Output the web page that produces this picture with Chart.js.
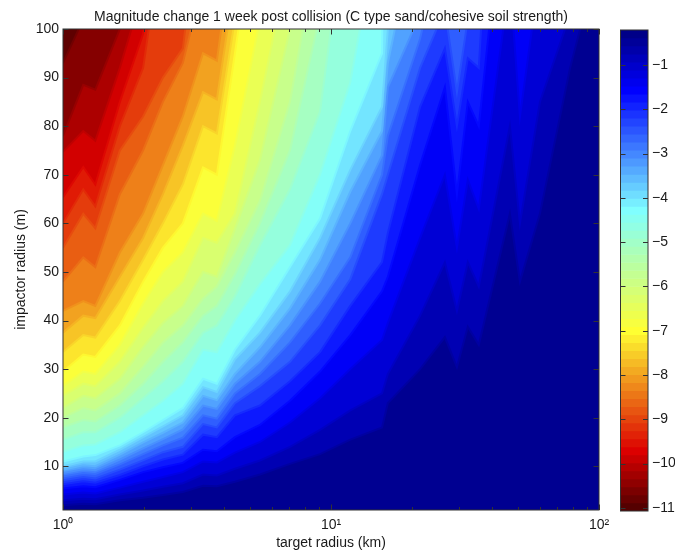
<!DOCTYPE html>
<html>
<head>
<meta charset="utf-8">
<script src="https://cdn.jsdelivr.net/npm/chart.js@4"></script>
<style>
  html, body { margin: 0; background: #fff; }
  canvas { position: absolute; top: 0; }
</style>
</head>
<body>
<canvas id="plot" width="675" height="552" style="left:0"></canvas>
<canvas id="bar" width="65" height="552" style="left:610px"></canvas>
<script>
// target radius grid (km)
const targetRadius = [1, 1.19, 1.32, 1.63, 1.99, 2.36, 2.8, 3.33, 3.75, 4.38, 5.43, 7.03, 9.1, 11.8, 15.5, 16.3, 21.5, 26.6, 29.5, 32.4, 35.6, 46.5, 50.7, 60.2, 78, 100];

// contour levels, top of colorbar to bottom
const levels = [-0.21, -0.57, -0.93, -1.30, -1.66, -2.02, -2.38, -2.74, -3.11, -3.47, -3.83, -4.19, -4.55, -4.92, -5.28, -5.64, -6.00, -6.36, -6.73, -7.09, -7.45, -7.81, -8.17, -8.54, -8.90, -9.26, -9.62, -9.98, -10.35, -10.71, -11.07];

// impactor radius where each level crosses the target radius grid.
// lines stop once they have left the top of the plot
const line01 = [2, 2.3, 2.2, 3, 3.5, 4.1, 4.7, 6, 5.9, 6.8, 8.3, 10.5, 12.5, 15.5, 18, 23, 30, 36.6, 30.4, 38.7, 35, 62, 48, 62, 92, 115];
const line02 = [3, 3.3, 3.2, 4.2, 5, 5.8, 6.5, 8.3, 8.1, 9.5, 11.2, 14, 17.5, 21.5, 25, 29, 41, 52, 42, 52, 47, 80, 60, 85, 103, 130];
const line03 = [4.2, 4.6, 4.4, 5.6, 6.8, 7.8, 8.8, 11, 10.8, 12.8, 15, 19, 24, 30, 36, 39.5, 57, 70, 55, 69, 63, 110, 82, 112, 150];
const line04 = [5.4, 5.9, 5.7, 7.2, 8.8, 9.8, 10.7, 13.4, 13.1, 16, 18.5, 23.5, 29.5, 37, 46, 49, 72, 88, 66, 85, 80, 140, 103, 150];
const line05 = [6.3, 6.9, 6.6, 8.2, 10, 11.4, 12.4, 16.5, 16, 20.5, 22.5, 27.5, 33.5, 43, 52, 58, 84, 96, 80, 94, 92, 200];
const line06 = [7.1, 7.8, 7.5, 9.3, 11.2, 12.9, 14, 18.7, 18, 23, 26.5, 31.5, 39, 48.5, 66, 70, 92, 104, 87, 102, 125];
const line07 = [7.9, 8.6, 8.4, 10.4, 12.5, 14.3, 15.9, 20.5, 19.8, 25, 29, 35.5, 43.5, 53, 70, 78, 98, 120, 115, 125];
const line08 = [8.6, 9.4, 9.2, 11.4, 13.7, 15.6, 17.6, 22.5, 21.8, 27, 31.5, 39, 48, 60, 74, 88, 103, 130];
const line09 = [9.3, 10.2, 10, 12.4, 14.9, 16.9, 19, 24.5, 23.6, 29, 34.5, 42.5, 52.5, 66.5, 79, 93, 125];
const line10 = [10, 11, 11, 13.4, 16, 18.2, 20.5, 26.3, 25.3, 32, 37.5, 46, 57, 71, 84, 100, 160];
const line11 = [11, 12, 12.3, 14.3, 17, 19.5, 22, 28, 27, 34, 41, 51, 61, 79, 95, 200];
const line12 = [13, 14.3, 14.5, 17, 20.5, 23.5, 27, 34, 33.5, 40, 47.5, 55.5, 70, 89, 125];
const line13 = [15.5, 17, 17, 20, 24, 27.5, 31.5, 37.5, 39, 45, 55.5, 67, 83, 130];
const line14 = [18, 19.5, 19.2, 22.5, 27, 31.5, 35.5, 41, 43, 49.5, 60, 75, 103];
const line15 = [20, 22, 21.5, 25, 30.5, 35.5, 39, 44.5, 47, 54, 64.6, 85, 120];
const line16 = [22, 24.5, 24, 28, 34.5, 39.5, 43, 50, 49, 58.8, 73, 100, 130];
const line17 = [24.5, 27, 26.5, 31.5, 38.5, 44, 48, 57, 56, 62, 85, 115];
const line18 = [26.5, 29.5, 29, 35, 43.5, 50, 54, 62, 60.5, 76, 102, 130];
const line19 = [29.5, 33, 32.5, 39, 48, 55, 60, 71.5, 70, 95, 130];
const line20 = [33.5, 37, 36.5, 44, 52.5, 60, 68, 80, 78.5, 102, 130];
const line21 = [37.5, 41, 40.5, 49, 57, 66, 76, 87, 85.5, 110];
const line22 = [42, 44, 43, 54, 62, 72, 82, 95, 93.5, 120];
const line23 = [48, 53, 51, 66, 75, 85, 93, 110];
const line24 = [55, 62, 59, 75, 82, 90, 96, 130];
const line25 = [60, 67, 63.5, 80, 92, 120];
const line26 = [65.4, 71.6, 68, 85, 99, 140];
const line27 = [74.7, 79, 77, 92, 108, 150];
const line28 = [78, 88.5, 87.5, 100, 140];
const line29 = [93, 102, 130];

const contourLines = [line01, line02, line03, line04, line05, line06, line07, line08, line09, line10,
  line11, line12, line13, line14, line15, line16, line17, line18, line19, line20,
  line21, line22, line23, line24, line25, line26, line27, line28, line29];

// tick values and labels
const xTicks = [1, 2, 3, 4, 5, 6, 7, 8, 9, 10, 20, 30, 40, 50, 60, 70, 80, 90, 100];
const xTickLabels = { 1: "10\u2070", 10: "10\u00B9", 100: "10\u00B2" };
const yTicks = [10, 20, 30, 40, 50, 60, 70, 80, 90, 100];
const barTicks = [-1, -2, -3, -4, -5, -6, -7, -8, -9, -10, -11];

// pale jet, [position, r, g, b]
const jetStops = [
  [0, 0, 0, 128], [0.125, 0, 0, 255], [0.375, 128, 255, 255], [0.625, 255, 255, 50],
  [0.875, 220, 0, 0], [1, 75, 0, 0]
];

function jet(t) {
  let i = 0;
  while (i < jetStops.length - 2 && t > jetStops[i + 1][0]) i++;
  const a = jetStops[i], b = jetStops[i + 1];
  const f = (t - a[0]) / (b[0] - a[0]);
  const c = [1, 2, 3].map(j => Math.round(a[j] + (b[j] - a[j]) * f));
  return "rgb(" + c.join(",") + ")";
}

const bandCount = levels.length - 1;
const bandColors = [];
for (let i = 0; i < bandCount; i++) bandColors.push(jet((i + 0.5) / bandCount));

// the colorbar has finer strips than the contour bands
const barStrips = 60;
const barTop = levels[0], barBottom = levels[bandCount];

const FONT = "'Liberation Sans', Helvetica, Arial, sans-serif";
const INK = "#1a1a1a";

// matlab style box with the ticks pointing inwards
const inwardTicks = {
  id: "inwardTicks",
  afterDatasetsDraw(chart, args, opts) {
    const { ctx, chartArea: a } = chart;
    ctx.save();
    ctx.strokeStyle = "#333";
    ctx.lineWidth = 1;
    ctx.beginPath();
    if (chart.scales.x.type === "logarithmic") {
      chart.scales.x.ticks.forEach(t => {
        const px = Math.round(chart.scales.x.getPixelForValue(t.value)) + 0.5;
        const len = xTickLabels[t.value] ? 5.5 : 3;
        ctx.moveTo(px, a.bottom); ctx.lineTo(px, a.bottom - len);
        ctx.moveTo(px, a.top); ctx.lineTo(px, a.top + len);
      });
    }
    chart.scales.y.ticks.forEach(t => {
      const py = Math.round(chart.scales.y.getPixelForValue(t.value)) + 0.5;
      ctx.moveTo(a.left, py); ctx.lineTo(a.left + opts.len, py);
      ctx.moveTo(a.right, py); ctx.lineTo(a.right - opts.len, py);
    });
    ctx.stroke();
    ctx.strokeRect(a.left, a.top, a.right - a.left, a.bottom - a.top);
    ctx.restore();
  }
};

// painted bottom up: each level covers everything above its line
const yMin = 1;
const contourSets = [{
  data: targetRadius.map(x => ({ x: x, y: yMin })),
  backgroundColor: bandColors[0],
  borderWidth: 0
}];
contourLines.forEach((line, i) => {
  contourSets.push({
    data: line.map((y, j) => ({ x: targetRadius[j], y: y })),
    backgroundColor: bandColors[i + 1],
    // soft edge between neighbouring bands, the original is resampled
    borderColor: jet((i + 1) / bandCount),
    borderWidth: 2
  });
});
contourSets.forEach((d, i) => {
  d.showLine = true;
  d.fill = "end";
  d.pointRadius = 0;
  d.tension = 0;
  d.clip = 0;
  d.order = -i;
});

new Chart(document.getElementById("plot"), {
  type: "scatter",
  data: { datasets: contourSets },
  plugins: [inwardTicks],
  options: {
    responsive: false,
    animation: false,
    devicePixelRatio: 1,
    layout: { padding: { right: 76 } },
    plugins: { legend: { display: false }, tooltip: { enabled: false }, inwardTicks: { len: 5.5 } },
    scales: {
      x: {
        type: "logarithmic",
        min: 1,
        max: 100,
        grid: { display: false, drawTicks: false },
        border: { display: false },
        afterBuildTicks: s => { s.ticks = xTicks.map(v => ({ value: v })); },
        afterFit: s => { s.height = 42; },
        ticks: {
          autoSkip: false,
          maxRotation: 0,
          padding: 6.5,
          color: INK,
          font: { family: FONT, size: 14 },
          callback: v => xTickLabels[v] || ""
        },
        title: {
          display: true,
          text: "target radius (km)",
          color: INK,
          font: { family: FONT, size: 14 },
          padding: { top: 0, bottom: 0.6 }
        }
      },
      y: {
        min: 1,
        max: 100,
        grid: { display: false, drawTicks: false },
        border: { display: false },
        afterBuildTicks: s => { s.ticks = yTicks.map(v => ({ value: v })); },
        afterFit: s => { s.width = 63; },
        ticks: {
          padding: 4,
          color: INK,
          font: { family: FONT, size: 14 }
        },
        title: {
          display: true,
          text: "impactor radius (m)",
          color: INK,
          font: { family: FONT, size: 14 },
          padding: { top: 12.6, bottom: 0 }
        }
      },
      // only carries the title, so that it centres over the plot
      titleAxis: {
        type: "linear",
        position: "top",
        display: true,
        grid: { display: false, drawTicks: false },
        border: { display: false },
        ticks: { display: false },
        afterFit: s => { s.height = 29; },
        title: {
          display: true,
          text: "Magnitude change 1 week post collision (C type sand/cohesive soil strength)",
          color: INK,
          font: { family: FONT, size: 14 },
          padding: { top: 8.6, bottom: 0 }
        }
      }
    }
  }
});

const stripSets = [];
for (let i = 0; i < barStrips; i++) {
  stripSets.push({
    data: [[barTop + (barBottom - barTop) * (i + 1) / barStrips, barTop + (barBottom - barTop) * i / barStrips]],
    backgroundColor: jet((i + 0.5) / barStrips),
    borderWidth: 0,
    barPercentage: 1,
    categoryPercentage: 1
  });
}

new Chart(document.getElementById("bar"), {
  type: "bar",
  data: { labels: [""], datasets: stripSets },
  plugins: [inwardTicks],
  options: {
    responsive: false,
    animation: false,
    devicePixelRatio: 1,
    layout: { padding: { left: 10.5, top: 30, bottom: 41 } },
    plugins: { legend: { display: false }, tooltip: { enabled: false }, inwardTicks: { len: 5 } },
    scales: {
      x: { display: false, stacked: true },
      y: {
        position: "right",
        min: barBottom,
        max: barTop,
        grid: { display: false, drawTicks: false },
        border: { display: false },
        afterBuildTicks: s => { s.ticks = barTicks.map(v => ({ value: v })); },
        afterFit: s => { s.width = 27; },
        ticks: {
          padding: 4,
          color: INK,
          font: { family: FONT, size: 14 },
          callback: v => "\u2212" + Math.abs(v)
        }
      }
    }
  }
});
</script>
</body>
</html>
